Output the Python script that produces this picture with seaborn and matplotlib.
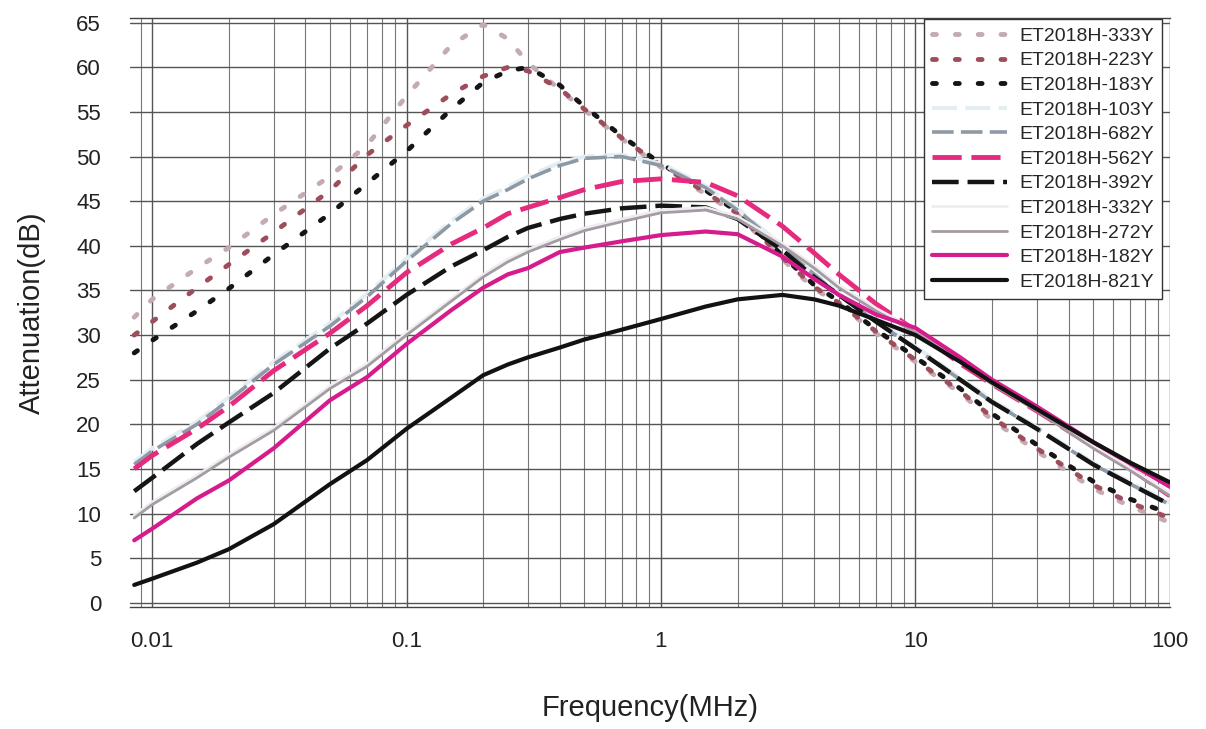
import numpy as np
import pandas as pd
import matplotlib
matplotlib.use("Agg")
import matplotlib.pyplot as plt
import seaborn as sns
from matplotlib.ticker import LogLocator, FixedLocator, FixedFormatter, NullFormatter

sns.set_theme(style="white")
plt.rcParams['font.family'] = ['Liberation Sans', 'DejaVu Sans']

freq = [0.0085, 0.01, 0.015, 0.02, 0.03, 0.05, 0.07, 0.1, 0.15, 0.2, 0.25, 0.3,
        0.4, 0.5, 0.7, 1, 1.5, 2, 3, 4, 5, 7, 10, 15, 20, 30, 50, 70, 100]

s333 = [32, 34, 37.5, 39.8, 43.5, 47.8, 51.3, 56.8, 62.5, 64.8, 63.2, 60.5,
        57.5, 55.2, 52, 48.8, 45.8, 43.5, 38.5, 35.2, 33.5, 30.2, 27, 23.5, 20.5, 17, 12.8, 10.8, 9]
s223 = [30, 31.5, 35.3, 37.9, 41.5, 46.2, 50.2, 53.5, 57, 59, 60, 59.6,
        57.6, 55.3, 52.1, 49, 46, 43.6, 38.7, 35.4, 33.6, 30.4, 27.2, 23.7, 20.8, 17.3, 13.2, 11.2, 9.5]
s183 = [28, 29.4, 32.7, 35.2, 39, 43.6, 47, 50.6, 55.3, 58.3, 59.6, 60,
        58, 55.6, 52.3, 49.2, 46.2, 43.8, 38.9, 35.6, 33.8, 30.6, 27.5, 24, 21.2, 17.7, 13.6, 11.6, 10]
s103 = [15.8, 17.3, 20.3, 23, 27, 31.3, 34.6, 38.6, 42.8, 45.3, 46.6, 47.8,
        49.3, 50, 50.2, 49.2, 46.7, 44.2, 40, 37, 34.7, 31.7, 28.7, 25.2, 22.7, 19.7, 15.7, 13.5, 11.2]
s682 = [15.5, 17, 20, 22.7, 26.7, 31, 34.3, 38.3, 42.5, 45, 46.3, 47.5,
        49, 49.8, 50, 49, 46.5, 44, 39.8, 36.8, 34.5, 31.5, 28.5, 25, 22.5, 19.5, 15.5, 13.3, 11]
s562 = [15, 16.5, 19.5, 22, 26, 30.2, 33.3, 37, 40.2, 42, 43.6, 44.3,
        45.4, 46.3, 47.2, 47.5, 47.1, 45.6, 42.2, 39.2, 36.8, 33.5, 30.5, 26.8, 24.5, 21.5, 17.5, 15, 12]
s392 = [12.5, 14, 17.8, 20.2, 23.5, 28.5, 31.3, 34.5, 37.7, 39.5, 41, 42,
        43, 43.6, 44.2, 44.5, 44.3, 43, 39.5, 36.5, 34.5, 31.5, 28.5, 25, 22.5, 19.5, 15.5, 13.3, 11]
s332 = [9.8, 11.3, 14.3, 16.6, 19.6, 24.3, 26.8, 30.3, 34.1, 36.8, 38.5, 39.6,
        41, 42, 43, 44, 44.3, 43.3, 40.3, 37.8, 35.6, 33, 30.6, 27.3, 24.8, 21.8, 17.6, 15.1, 12.3]
s272 = [9.5, 11, 14, 16.3, 19.3, 24, 26.5, 30, 33.8, 36.5, 38.2, 39.3,
        40.7, 41.7, 42.7, 43.7, 44, 43, 40, 37.5, 35.3, 32.7, 30.3, 27, 24.5, 21.5, 17.3, 14.8, 12]
s182 = [7, 8.3, 11.7, 13.7, 17.3, 22.7, 25.3, 29, 32.8, 35.3, 36.8, 37.5,
        39.3, 39.8, 40.5, 41.2, 41.6, 41.3, 38.8, 36.3, 34.5, 32.3, 30.8, 27.5, 25, 22, 18, 15.6, 13]
s821 = [2, 2.7, 4.5, 6, 8.8, 13.3, 16, 19.5, 23, 25.5, 26.7, 27.5,
        28.6, 29.5, 30.6, 31.8, 33.2, 34, 34.5, 34, 33.3, 31.7, 30, 27, 24.7, 21.7, 18, 15.7, 13.5]

names = ["ET2018H-333Y", "ET2018H-223Y", "ET2018H-183Y", "ET2018H-103Y",
         "ET2018H-682Y", "ET2018H-562Y", "ET2018H-392Y", "ET2018H-332Y",
         "ET2018H-272Y", "ET2018H-182Y", "ET2018H-821Y"]
values = [s333, s223, s183, s103, s682, s562, s392, s332, s272, s182, s821]

dotted = (0, (0.8, 3.9))
dashed = (0, (6, 2))
styles = {
    "ET2018H-333Y": dict(color="#c4aab2", lw=3.5, ls=dotted, cap="round"),
    "ET2018H-223Y": dict(color="#9e4d5c", lw=3.5, ls=dotted, cap="round"),
    "ET2018H-183Y": dict(color="#151515", lw=3.5, ls=dotted, cap="round"),
    "ET2018H-103Y": dict(color="#e4eef2", lw=3.0, ls=dashed, cap="butt"),
    "ET2018H-682Y": dict(color="#8d9aa6", lw=2.6, ls=dashed, cap="butt"),
    "ET2018H-562Y": dict(color="#e62a7e", lw=3.5, ls=dashed, cap="butt"),
    "ET2018H-392Y": dict(color="#151515", lw=3.2, ls=dashed, cap="butt"),
    "ET2018H-332Y": dict(color="#f0edf0", lw=2.0, ls="-", cap="butt"),
    "ET2018H-272Y": dict(color="#a49ca4", lw=2.0, ls="-", cap="butt"),
    "ET2018H-182Y": dict(color="#d61b8c", lw=3.0, ls="-", cap="butt"),
    "ET2018H-821Y": dict(color="#121212", lw=3.0, ls="-", cap="butt"),
}

fig = plt.figure(figsize=(12.06, 7.29), dpi=100)
ax = fig.add_axes([0.108, 0.167, 0.862, 0.808])

for name, vals in zip(names, values):
    st = styles[name]
    sns.lineplot(x=freq, y=vals, ax=ax, color=st["color"], linewidth=st["lw"],
                 linestyle=st["ls"], dash_capstyle=st["cap"], label=name,
                 errorbar=None, sort=False)

ax.set_xscale("log")
ax.set_xlim(0.0082, 100)
ax.set_ylim(-0.5, 65.5)

ax.xaxis.set_major_locator(FixedLocator([0.01, 0.1, 1, 10, 100]))
ax.xaxis.set_major_formatter(FixedFormatter(["0.01", "0.1", "1", "10", "100"]))
ax.xaxis.set_minor_locator(LogLocator(base=10, subs=np.arange(2, 10)))
ax.xaxis.set_minor_formatter(NullFormatter())
ax.set_yticks(np.arange(0, 66, 5))

ax.grid(True, which="major", axis="both", color="#555555", linewidth=1.0)
ax.grid(True, which="minor", axis="x", color="#777777", linewidth=0.8)
ax.set_axisbelow(True)

ax.tick_params(axis="both", which="both", length=0, labelsize=16, colors="#222222")
ax.tick_params(axis="y", pad=21)
ax.tick_params(axis="x", pad=17)
for sp in ax.spines.values():
    sp.set_color("#444444")
    sp.set_linewidth(1.0)
ax.spines["left"].set_visible(False)
ax.spines["right"].set_visible(False)

ax.set_xlabel("Frequency(MHz)", fontsize=21, color="#222222", labelpad=30)
ax.set_ylabel("Attenuation(dB)", fontsize=21, color="#222222", labelpad=22)

leg = ax.legend(loc="upper right", bbox_to_anchor=(0.992, 0.998), fontsize=14,
                frameon=True, fancybox=False, edgecolor="#333333",
                handlelength=3.9, labelspacing=0.36, borderpad=0.4,
                handletextpad=0.6, borderaxespad=0.0)
leg.get_frame().set_linewidth(1.0)
leg.get_frame().set_facecolor("white")
leg.get_frame().set_alpha(1.0)

fig.savefig("out.png", dpi=100, facecolor="white")
